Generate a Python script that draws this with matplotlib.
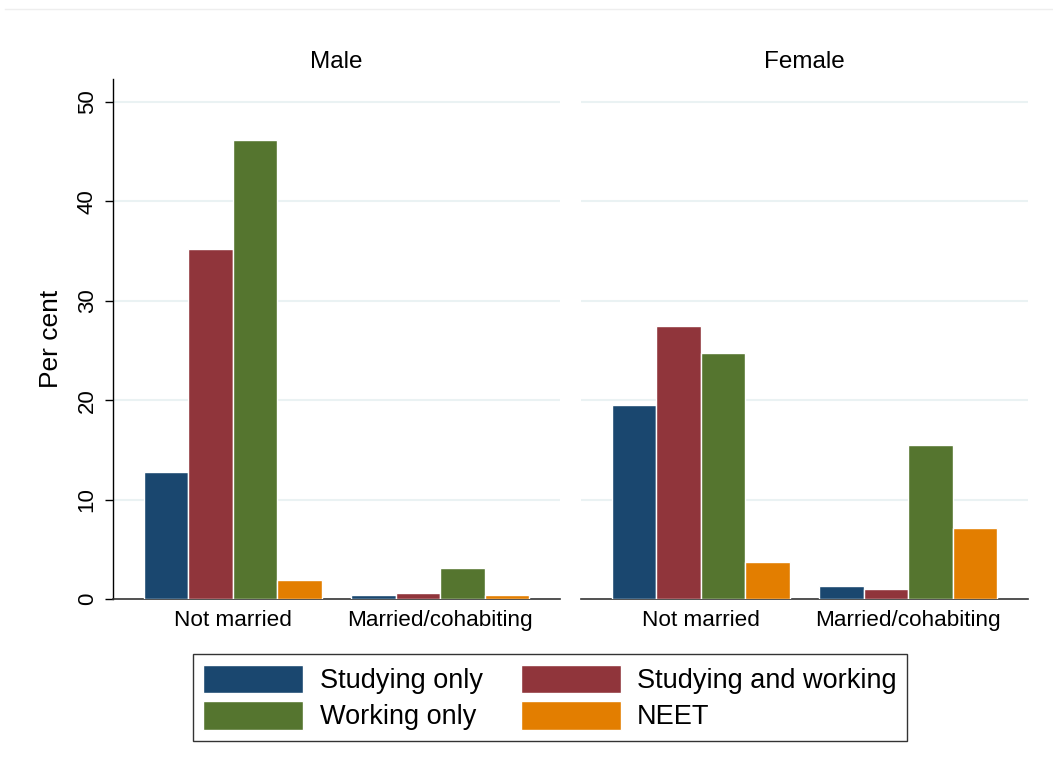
import matplotlib
matplotlib.use('Agg')
import matplotlib.pyplot as plt
import numpy as np
from matplotlib.patches import Patch
from matplotlib.lines import Line2D

plt.rcParams['font.family'] = ['Liberation Sans', 'DejaVu Sans']

panels = ['Male', 'Female']
groups = ['Not married', 'Married/cohabiting']
series = ['Studying only', 'Studying and working', 'Working only', 'NEET']
colors = ['#1a476f', '#90353b', '#55752f', '#e37e00']

male_studying_only = [12.8, 0.4]
male_studying_working = [35.2, 0.6]
male_working_only = [46.2, 3.1]
male_neet = [1.9, 0.4]

female_studying_only = [19.5, 1.3]
female_studying_working = [27.5, 1.0]
female_working_only = [24.7, 15.5]
female_neet = [3.7, 7.1]

data = {
    'Male': [male_studying_only, male_studying_working, male_working_only, male_neet],
    'Female': [female_studying_only, female_studying_working, female_working_only, female_neet],
}

yticks = [0, 10, 20, 30, 40, 50]

W, H = 1053, 767
fig = plt.figure(figsize=(W / 100, H / 100), dpi=100)

group_centers = np.array([0.0, 4.67])
offsets = np.array([-1.5, -0.5, 0.5, 1.5])
grid_color = '#eaf2f3'

ax_left = [113 / W, 581 / W]
ax_w = 447 / W
ax_bottom = 1 - 599 / H
ax_h = (599 - 79) / H

axes = []
for i, panel in enumerate(panels):
    ax = fig.add_axes([ax_left[i], ax_bottom, ax_w, ax_h])
    axes.append(ax)
    for s, vals in enumerate(data[panel]):
        ax.bar(group_centers + offsets[s], vals, width=1.0, color=colors[s],
               edgecolor='white', linewidth=1.0, zorder=3)
    ax.set_xlim(-2.7, 7.37)
    ax.set_ylim(0, 52.3)
    ax.set_yticks(yticks)
    for y in yticks[1:]:
        ax.axhline(y, color=grid_color, linewidth=1.5, zorder=1)
    ax.set_xticks(group_centers)
    ax.set_xticklabels(groups, fontsize=16.2)
    ax.tick_params(axis='x', length=0, pad=8)
    for sp in ['top', 'right']:
        ax.spines[sp].set_visible(False)
    ax.spines['bottom'].set_color('#333333')
    ax.spines['bottom'].set_linewidth(1.2)
    ax.set_title(panel, fontsize=17.5, pad=8)
    if i == 0:
        ax.spines['left'].set_linewidth(1.0)
        ax.set_yticklabels([str(t) for t in yticks], rotation=90, va='center', fontsize=16)
        ax.tick_params(axis='y', length=6, width=1.0, pad=5)
        ax.set_ylabel('Per cent', fontsize=19, labelpad=10)
    else:
        ax.spines['left'].set_visible(False)
        ax.tick_params(axis='y', left=False, labelleft=False)

# legend fills column-wise; order so rows read: Studying only | Studying and working / Working only | NEET
order = [0, 2, 1, 3]
handles = [Patch(facecolor=colors[k], edgecolor='white', label=series[k]) for k in order]
leg = fig.legend(handles=handles, ncol=2, loc='center', bbox_to_anchor=(550 / W, 1 - 697.5 / H),
                 fontsize=19.5, frameon=True, fancybox=False, edgecolor='black',
                 handlelength=3.7, handleheight=1.25, columnspacing=1.4, handletextpad=0.6,
                 labelspacing=0.25, borderpad=0.38, borderaxespad=0)
leg.get_frame().set_linewidth(1.0)

fig.add_artist(Line2D([5 / W, 1.0], [1 - 9 / H, 1 - 9 / H], color='#eeeeee', linewidth=1.0))

fig.savefig('out.png', dpi=100, facecolor='white')
